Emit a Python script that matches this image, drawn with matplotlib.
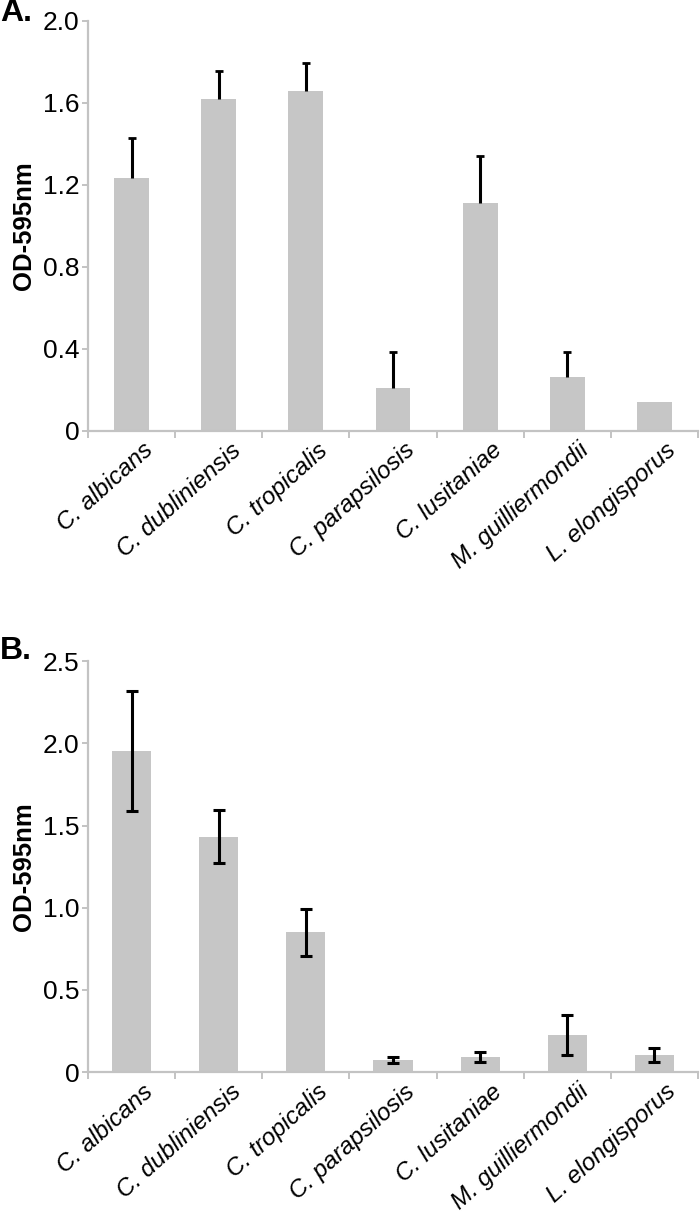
import matplotlib
matplotlib.use("Agg")
import matplotlib.pyplot as plt
import matplotlib.transforms as mtransforms
import numpy as np

plt.rcParams['font.family'] = ['Liberation Sans', 'DejaVu Sans']

species = ["C. albicans", "C. dubliniensis", "C. tropicalis", "C. parapsilosis",
           "C. lusitaniae", "M. guilliermondii", "L. elongisporus"]

# Panel A (upper error bars only; L. elongisporus has none)
a_values = [1.233, 1.617, 1.660, 0.208, 1.114, 0.262, 0.140]
a_err_up = [0.197, 0.140, 0.136, 0.176, 0.226, 0.122, np.nan]
a_ticks = [0, 0.4, 0.8, 1.2, 1.6, 2.0]
a_ticklabels = ["0", "0.4", "0.8", "1.2", "1.6", "2.0"]

# Panel B
b_values = [1.953, 1.432, 0.851, 0.075, 0.095, 0.225, 0.107]
b_err = [0.367, 0.160, 0.142, 0.020, 0.031, 0.122, 0.043]
b_ticks = [0, 0.5, 1.0, 1.5, 2.0, 2.5]
b_ticklabels = ["0", "0.5", "1.0", "1.5", "2.0", "2.5"]

BAR = "#c6c6c6"
SPINE = "#c3c3c3"

fig = plt.figure(figsize=(7, 12.25), dpi=100)
axA = fig.add_axes([0.1257, 0.6482, 0.8714, 0.3347])
axB = fig.add_axes([0.1257, 0.1247, 0.8714, 0.3357])

x = np.arange(len(species))

def style(ax, ticks, ticklabels, ymax):
    ax.set_xlim(-0.5, len(species) - 0.5)
    ax.set_ylim(0, ymax)
    for s in ["top", "right"]:
        ax.spines[s].set_visible(False)
    for s in ["left", "bottom"]:
        ax.spines[s].set_color(SPINE)
        ax.spines[s].set_linewidth(1.6)
    ax.set_yticks(ticks)
    ax.set_yticklabels(ticklabels, fontsize=19)
    ax.tick_params(axis="y", length=4, width=1.4, color=SPINE, pad=2)
    ax.set_xticks(x)
    ax.set_xticklabels(species, fontsize=17.5, style="italic",
                       rotation=42, ha="right", va="top", rotation_mode="anchor")
    ax.tick_params(axis="x", which="major", length=0, pad=2)
    ax.set_xticks(np.arange(-0.5, len(species)), minor=True)
    ax.tick_params(axis="x", which="minor", length=5, width=1.4, color=SPINE)
    off = mtransforms.ScaledTranslation(11 / 100, -5 / 100, fig.dpi_scale_trans)
    for lab in ax.get_xticklabels():
        lab.set_transform(lab.get_transform() + off)
    ax.set_ylabel("OD-595nm", fontsize=18.5, fontweight="bold", labelpad=5)

axA.bar(x, a_values, width=0.4, color=BAR, zorder=2)
ebA = axA.errorbar(x, a_values, yerr=[np.zeros(len(x)), a_err_up], fmt="none",
                   ecolor="black", elinewidth=2.2, capsize=3, capthick=2, zorder=3)
ebA[1][0].set_visible(False)  # hide lower caps (one-sided bars)
style(axA, a_ticks, a_ticklabels, 2.0)

axB.bar(x, b_values, width=0.45, color=BAR, zorder=2)
axB.errorbar(x, b_values, yerr=b_err, fmt="none",
             ecolor="black", elinewidth=2.2, capsize=4, capthick=2.2, zorder=3)
style(axB, b_ticks, b_ticklabels, 2.5)

fig.text(0.0, 0.989, "A.", fontsize=23, fontweight="bold", ha="left", va="center")
fig.text(0.0, 0.4686, "B.", fontsize=23, fontweight="bold", ha="left", va="center")

fig.savefig("out.png", dpi=100)
